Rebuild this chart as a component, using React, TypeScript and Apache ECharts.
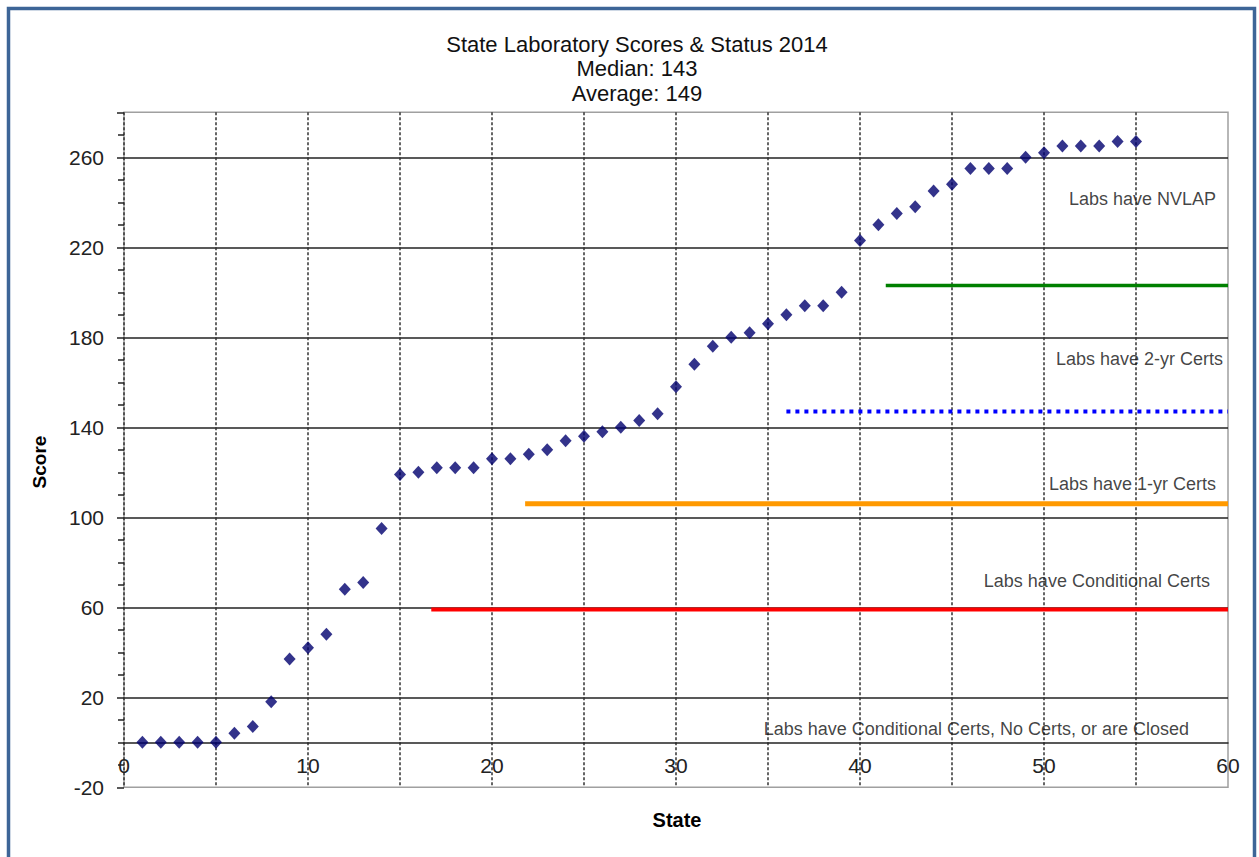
import React, { useEffect, useRef } from "react";
import * as echarts from "echarts";

const scores = [
  0, 0, 0, 0, 0, 4, 7, 18, 37, 42, 48, 68, 71, 95, 119, 120, 122, 122, 122, 126,
  126, 128, 130, 134, 136, 138, 140, 143, 146, 158, 168, 176, 180, 182, 186, 190,
  194, 194, 200, 223, 230, 235, 238, 245, 248, 255, 255, 255, 260, 262, 265, 265,
  265, 267, 267,
];
const states = scores.map((_, i) => i + 1);

const titleLines = ["State Laboratory Scores & Status 2014", "Median: 143", "Average: 149"];

const thresholdNames = ["NVLAP", "2-yr", "1-yr", "Conditional"];
const thresholdStart = [41.4, 36.0, 21.8, 16.7];
const thresholdValue = [203, 147, 106, 59];
const thresholdColor = ["#008000", "#0000ff", "#ff9900", "#ff0000"];
const thresholdWidth = [3.5, 4, 5, 4];
const thresholdDash: (number[] | "solid")[] = ["solid", [4, 5], "solid", "solid"];

const noteTexts = [
  "Labs have NVLAP",
  "Labs have 2-yr Certs",
  "Labs have 1-yr Certs",
  "Labs have Conditional Certs",
  "Labs have Conditional Certs, No Certs, or are Closed",
];
const noteX = [59.35, 59.73, 59.35, 59.02, 57.88];
const noteY = [241.4, 170.4, 114.9, 71.9, 6.1];

const FONT = "'Liberation Sans', Arial, sans-serif";

export default function App() {
  const ref = useRef<HTMLDivElement>(null);
  useEffect(() => {
    if (!ref.current) return;
    const chart = echarts.init(ref.current, null, { renderer: "svg" });
    const series: any[] = [];
    thresholdNames.forEach((n, i) => {
      series.push({
        type: "line",
        name: n,
        data: [
          [thresholdStart[i], thresholdValue[i]],
          [60, thresholdValue[i]],
        ],
        symbol: "none",
        lineStyle: {
          color: thresholdColor[i],
          width: thresholdWidth[i],
          type: thresholdDash[i],
          cap: "butt",
        },
        z: 3,
        silent: true,
      });
    });
    series.push({
      type: "scatter",
      name: "Score",
      data: states.map((s, i) => [s, scores[i]]),
      symbol: "diamond",
      symbolSize: [12, 13],
      itemStyle: { color: "#00006e" },
      z: 5,
    });
    series.push({
      type: "scatter",
      name: "notes",
      data: noteTexts.map((t, i) => ({ value: [noteX[i], noteY[i]], name: t })),
      symbolSize: 0,
      silent: true,
      label: {
        show: true,
        position: "left",
        distance: 0,
        formatter: (p: any) => p.name,
        color: "#111",
        fontSize: 18,
        fontFamily: FONT,
      },
      z: 4,
    });

    const graphic: any[] = [
      {
        type: "rect",
        shape: { x: 8.5, y: 8.5, width: 1246, height: 900 },
        style: { fill: "none", stroke: "#3d6597", lineWidth: 3.5 },
        silent: true,
      },
      ...titleLines.map((t, i) => ({
        type: "text",
        x: 637,
        y: 44 + i * 24.5,
        style: {
          text: t,
          fill: "#111",
          font: `22px ${FONT}`,
          textAlign: "center",
          textVerticalAlign: "middle",
        },
      })),
      {
        type: "text",
        x: 39,
        y: 462,
        rotation: Math.PI / 2,
        style: {
          text: "Score",
          fill: "#000",
          font: `bold 19px ${FONT}`,
          textAlign: "center",
          textVerticalAlign: "middle",
        },
      },
      {
        type: "text",
        x: 677,
        y: 820,
        style: {
          text: "State",
          fill: "#000",
          font: `bold 20px ${FONT}`,
          textAlign: "center",
          textVerticalAlign: "middle",
        },
      },
    ];

    chart.setOption({
      animation: false,
      backgroundColor: "#fff",
      graphic,
      grid: {
        left: 124,
        top: 112.3,
        width: 1104,
        height: 675,
        show: true,
        borderColor: "#a0a0a0",
        borderWidth: 1.5,
        containLabel: false,
      },
      xAxis: {
        type: "value",
        min: 0,
        max: 60,
        interval: 5,
        axisLine: { show: true, onZero: true, lineStyle: { color: "#222", width: 1.5 } },
        axisTick: { show: false },
        axisLabel: {
          margin: -32,
          color: "#222",
          fontSize: 21,
          fontFamily: FONT,
          formatter: (v: number) => (v % 10 === 0 ? String(v) : ""),
        },
        splitLine: {
          show: true,
          showMaxLine: false,
          lineStyle: { color: "#333", width: 1.5, type: [3, 2] },
        },
      },
      yAxis: {
        type: "value",
        min: -20,
        max: 280,
        interval: 40,
        axisLine: { show: false },
        axisTick: { show: true, length: 7, lineStyle: { color: "#222", width: 1.5 } },
        minorTick: { show: true, splitNumber: 4, length: 6, lineStyle: { color: "#222", width: 1.5 } },
        axisLabel: {
          margin: 20,
          color: "#222",
          fontSize: 21,
          fontFamily: FONT,
          formatter: (v: number) => (v === 280 ? "" : String(v)),
        },
        splitLine: {
          show: true,
          showMinLine: false,
          showMaxLine: false,
          lineStyle: { color: "#222", width: 1.5 },
        },
      },
      series,
    });
    return () => chart.dispose();
  }, []);
  return (
    <div
      ref={ref}
      style={{ position: "fixed", left: 0, top: 0, width: 1259, height: 857, background: "#fff" }}
    />
  );
}
